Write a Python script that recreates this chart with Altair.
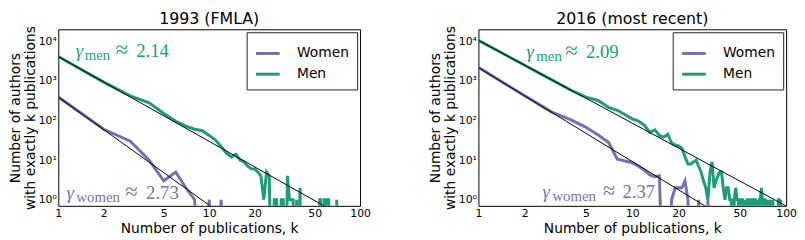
import altair as alt
import pandas as pd

PURPLE = "#7570b3"
GREEN = "#1b9e77"
SANS = "DejaVu Sans"
SERIF = "Liberation Serif"

titles = ["1993 (FMLA)", "2016 (most recent)"]
groups = ["Women", "Men"]

# ---- 1993 ----
k_w93 = list(range(1, 14))
n_w93 = [390, 60, 30, 10, 3, 5, 2, 1, 0, 1, 0, 1, 0]

k_m93 = list(range(1, 72))
n_m93 = [4100, 930, 420, 280, 150, 95, 72, 60, 55, 42,
         32, 22, 15, 12, 14, 10, 9, 7, 6, 6,
         5, 4, 1, 5, 4, 0, 1, 1, 0, 1,
         1, 0, 4, 1, 1, 1, 0, 1, 0, 2,
         0, 0, 0, 0, 0, 0, 0, 0, 0, 0,
         0, 0, 0, 1, 1, 0, 0, 1, 1, 0,
         1, 1, 0, 0, 0, 0, 0, 0, 0, 1,
         0]

# ---- 2016 ----
k_w16 = list(range(1, 33))
n_w16 = [2200, 420, 163, 103, 67, 43, 28, 10.5, 9.5, 8.5,
         7, 5.5, 4.2, 3.8, 4, 0, 0, 1, 2, 2,
         2, 3, 1, 0, 0, 0, 1, 0, 0, 0,
         1, 0]

k_m16 = list(range(1, 101))
n_m16 = [10500, 2470, 1060, 580, 390, 320, 215, 180, 140, 110,
         97, 75, 50, 58, 42, 38, 45, 27, 24, 23,
         20, 12, 8, 8, 9, 10, 7, 5, 3, 2,
         1, 5, 9, 2, 3, 4, 5, 5, 2, 1,
         2, 2, 1, 1, 0, 1, 2, 1, 1, 0,
         1, 1, 0, 1, 0, 1, 1, 0, 1, 1,
         0, 1, 1, 0, 1, 0, 1, 1, 2, 1,
         0, 1, 1, 0, 1, 0, 1, 0, 0, 1,
         0, 1, 0, 0, 0, 0, 0, 0, 1, 1,
         0, 1, 0, 0, 0, 0, 0, 0, 0, 0]

# power-law fits: n(k) = A * k^(-gamma)
gamma_w = [2.73, 2.37]
gamma_m = [2.14, 2.09]
amp_w = [390, 2150]
amp_m = [4100, 10500]

x_ticks = [1, 2, 5, 10, 20, 50, 100]
y_ticks = [1, 10, 100, 1000, 10000]
x_domain = [1, 100]
y_domain = [0.7, 20000]

FLOOR = 1e-3  # zero counts drawn as falling off the log axis


def series(ks, ns, g):
    return pd.DataFrame({"k": ks, "n": [v if v > 0 else FLOOR for v in ns], "g": g})


ylabel = ("datum.value == 1 ? '10⁰' : datum.value == 10 ? '10¹' : "
          "datum.value == 100 ? '10²' : datum.value == 1000 ? '10³' : '10⁴'")


def annot(xg, xs, xa, xv, y, sub, val, color):
    base = alt.Chart(pd.DataFrame({"a": [0]}))
    common = dict(font=SERIF, color=color, align="left", baseline="alphabetic")
    g = base.mark_text(text="γ", fontSize=19, fontStyle="italic", **common).encode(
        x=alt.value(xg), y=alt.value(y))
    s = base.mark_text(text=sub, fontSize=15, **common).encode(
        x=alt.value(xs), y=alt.value(y + 3.5))
    a = base.mark_text(text="≈", fontSize=23, **common).encode(
        x=alt.value(xa), y=alt.value(y))
    v = base.mark_text(text=f"{val:.2f}", fontSize=19, **common).encode(
        x=alt.value(xv), y=alt.value(y))
    return [g, s, a, v]


def panel(i, kw, nw, km, nm, width, ann_m, ann_w):
    df = pd.concat([series(kw, nw, "Women"), series(km, nm, "Men")])
    xs = alt.Scale(type="log", domain=x_domain, nice=False)
    ys = alt.Scale(type="log", domain=y_domain, nice=False)
    lines = alt.Chart(df).mark_line(strokeWidth=3, clip=True).encode(
        x=alt.X("k:Q", scale=xs,
                axis=alt.Axis(values=x_ticks, format="d", labelFlush=False,
                              labelOverlap=False, titlePadding=3,
                              title="Number of publications, k")),
        y=alt.Y("n:Q", scale=ys,
                axis=alt.Axis(values=y_ticks, labelExpr=ylabel, labelOverlap=False,
                              titlePadding=1,
                              title=["Number of authors", "with exactly k publications"])),
        color=alt.Color("g:N", sort=groups,
                        scale=alt.Scale(domain=groups, range=[PURPLE, GREEN]),
                        legend=alt.Legend(title=None, orient="top-right", offset=3,
                                          padding=8, strokeColor="#222",
                                          fillColor="white", symbolType="stroke",
                                          symbolStrokeWidth=3, symbolSize=576,
                                          labelFontSize=14, labelFont=SANS,
                                          labelOffset=16, rowPadding=0,
                                          labelColor="black")),
    )
    fit = pd.DataFrame({
        "k": [1, 100, 1, 100],
        "n": [amp_w[i], amp_w[i] * 100 ** (-gamma_w[i]),
              amp_m[i], amp_m[i] * 100 ** (-gamma_m[i])],
        "g": ["Women", "Women", "Men", "Men"],
    })
    fits = alt.Chart(fit).mark_line(strokeWidth=1, color="black", clip=True).encode(
        x="k:Q", y="n:Q", detail="g:N")
    texts = (annot(*ann_m, "men", gamma_m[i], GREEN)
             + annot(*ann_w, "women", gamma_w[i], PURPLE))
    return alt.layer(lines, fits, *texts).properties(
        width=width, height=179, title=titles[i])


p1 = panel(0, k_w93, n_w93, k_m93, n_m93, 306,
           (17.7, 26.7, 58, 79, 28), (8.3, 18.3, 68, 89, 172))
p2 = panel(1, k_w16, n_w16, k_m16, n_m16, 312,
           (48.7, 58.7, 88, 109, 28.7), (65, 75, 126, 146, 171))

chart = (
    alt.hconcat(p1, p2, spacing=58)
    .resolve_scale(color="independent")
    .resolve_legend(color="independent")
    .properties(padding={"left": 0, "top": 0, "right": 0, "bottom": 0})
    .configure_view(stroke="black", strokeWidth=1)
    .configure_axis(labelFont=SANS, labelFontSize=11, labelColor="black",
                    titleFont=SANS, titleFontSize=14, titleFontWeight="normal",
                    titleColor="black", domain=False, ticks=False, grid=False,
                    labelPadding=2, titleLineHeight=15)
    .configure_title(font=SANS, fontSize=16, fontWeight="normal", color="black",
                     anchor="middle", offset=-1)
)

chart.save("out.html", embed_options={"renderer": "svg", "actions": False})
